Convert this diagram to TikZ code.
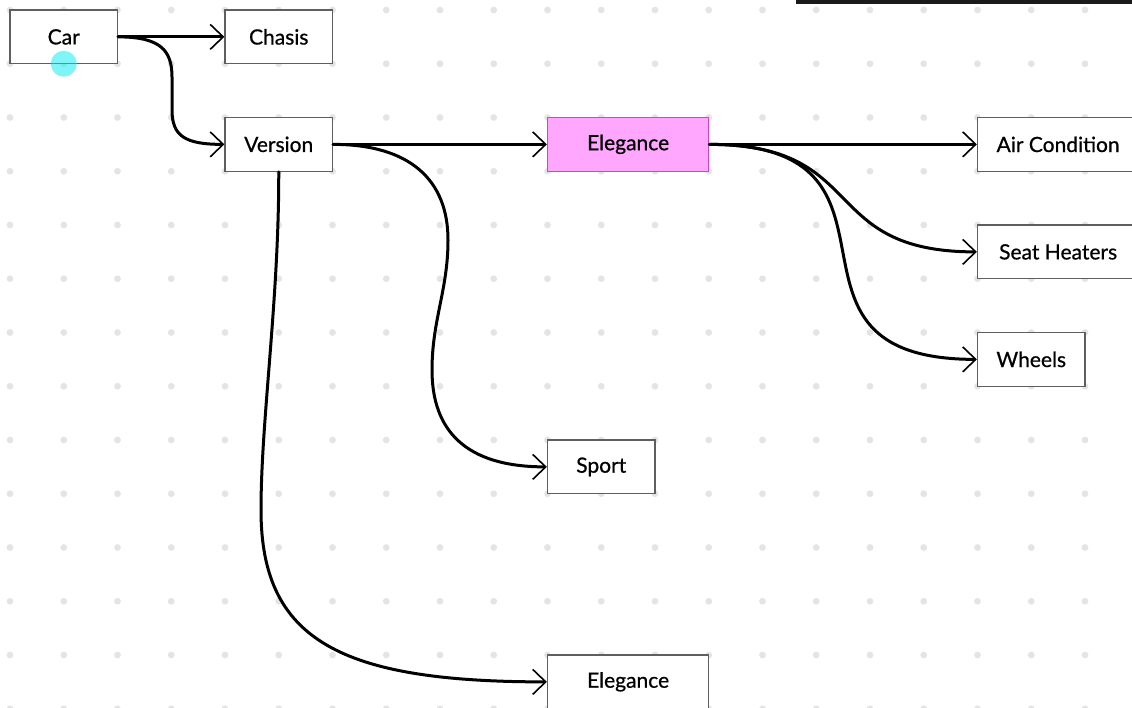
\documentclass[tikz,border=0pt]{standalone}
\usepackage{fontspec}
\setmainfont{Lato}
\newfontfamily\labelfont{Lato}[FakeBold=0.7]
\usetikzlibrary{arrows.meta}
\definecolor{dotgray}{RGB}{228,228,228}
\definecolor{boxgray}{RGB}{95,95,95}
\definecolor{pinkfill}{RGB}{255,166,255}
\definecolor{pinkline}{RGB}{204,70,204}
\definecolor{cursorcyan}{RGB}{0,236,240}
\definecolor{barblack}{RGB}{26,26,26}
\tikzset{
  box/.style={draw=boxgray, line width=1.3pt, fill=white, inner sep=0pt,
    minimum height=53.75pt, minimum width=107.5pt,
    font=\labelfont\fontsize{21}{24}\selectfont},
  widebox/.style={box, minimum width=161.25pt},
  hilite/.style={fill=pinkfill, draw=pinkline},
  link/.style={line width=3pt, line cap=round,
    -{Straight Barb[length=13pt,width=25pt,line width=1.6pt]}},
}
\begin{document}
\begin{tikzpicture}[x=1pt,y=-1pt]
\useasboundingbox (0,0) rectangle (1132,707);
\clip (0,0) rectangle (1132,707);

% dotted background grid
\foreach \i in {0,...,21}{
  \foreach \j in {0,...,13}{
    \fill[dotgray] ({10+53.75*\i},{10+53.75*\j}) circle (3.4pt);
  }
}

% boxes
\node[box]            (car)    at (63.75,36.875)    {Car};
\node[box]            (chasis) at (278.75,36.875)   {Chasis};
\node[box]            (version) at (278.75,144.375) {Version};
\node[widebox,hilite] (elegA)  at (628.125,144.375) {Elegance};
\node[widebox]        (air)    at (1058.125,144.375) {Air Condition};
\node[widebox]        (seat)   at (1058.125,251.875) {Seat Heaters};
\node[box]            (wheels) at (1031.25,359.375) {Wheels};
\node[box]            (sport)  at (601.25,466.875)  {Sport};
\node[widebox]        (elegB)  at (628.125,681.875) {Elegance};

% connectors
\draw[link] (car.east) -- (chasis.west);
\draw[link] (car.east) .. controls (160,36.9) and (172,50) .. (172,77)
  -- (172,110) .. controls (172,136) and (185,144.4) .. (version.west);
\draw[link] (version.east) -- (elegA.west);
\draw[link] (version.east) .. controls (410,144.4) and (448,180) .. (448,240)
  .. controls (448,290) and (432,320) .. (432,370)
  .. controls (432,430) and (465,466.9) .. (sport.west);
\draw[link] (version.south) .. controls (279,300) and (261,420) .. (261,510)
  .. controls (261,640) and (340,681.9) .. (elegB.west);
\draw[link] (elegA.east) -- (air.west);
\draw[link] (elegA.east) .. controls (870,144.4) and (817,251.9) .. (seat.west);
\draw[link] (elegA.east) .. controls (935,144.4) and (751,359.4) .. (wheels.west);

% pointer marker and top bar
\fill[cursorcyan, opacity=0.5] (63.75,63.75) circle (13pt);
\fill[barblack] (796,0) rectangle (1132,4);
\end{tikzpicture}
\end{document}
